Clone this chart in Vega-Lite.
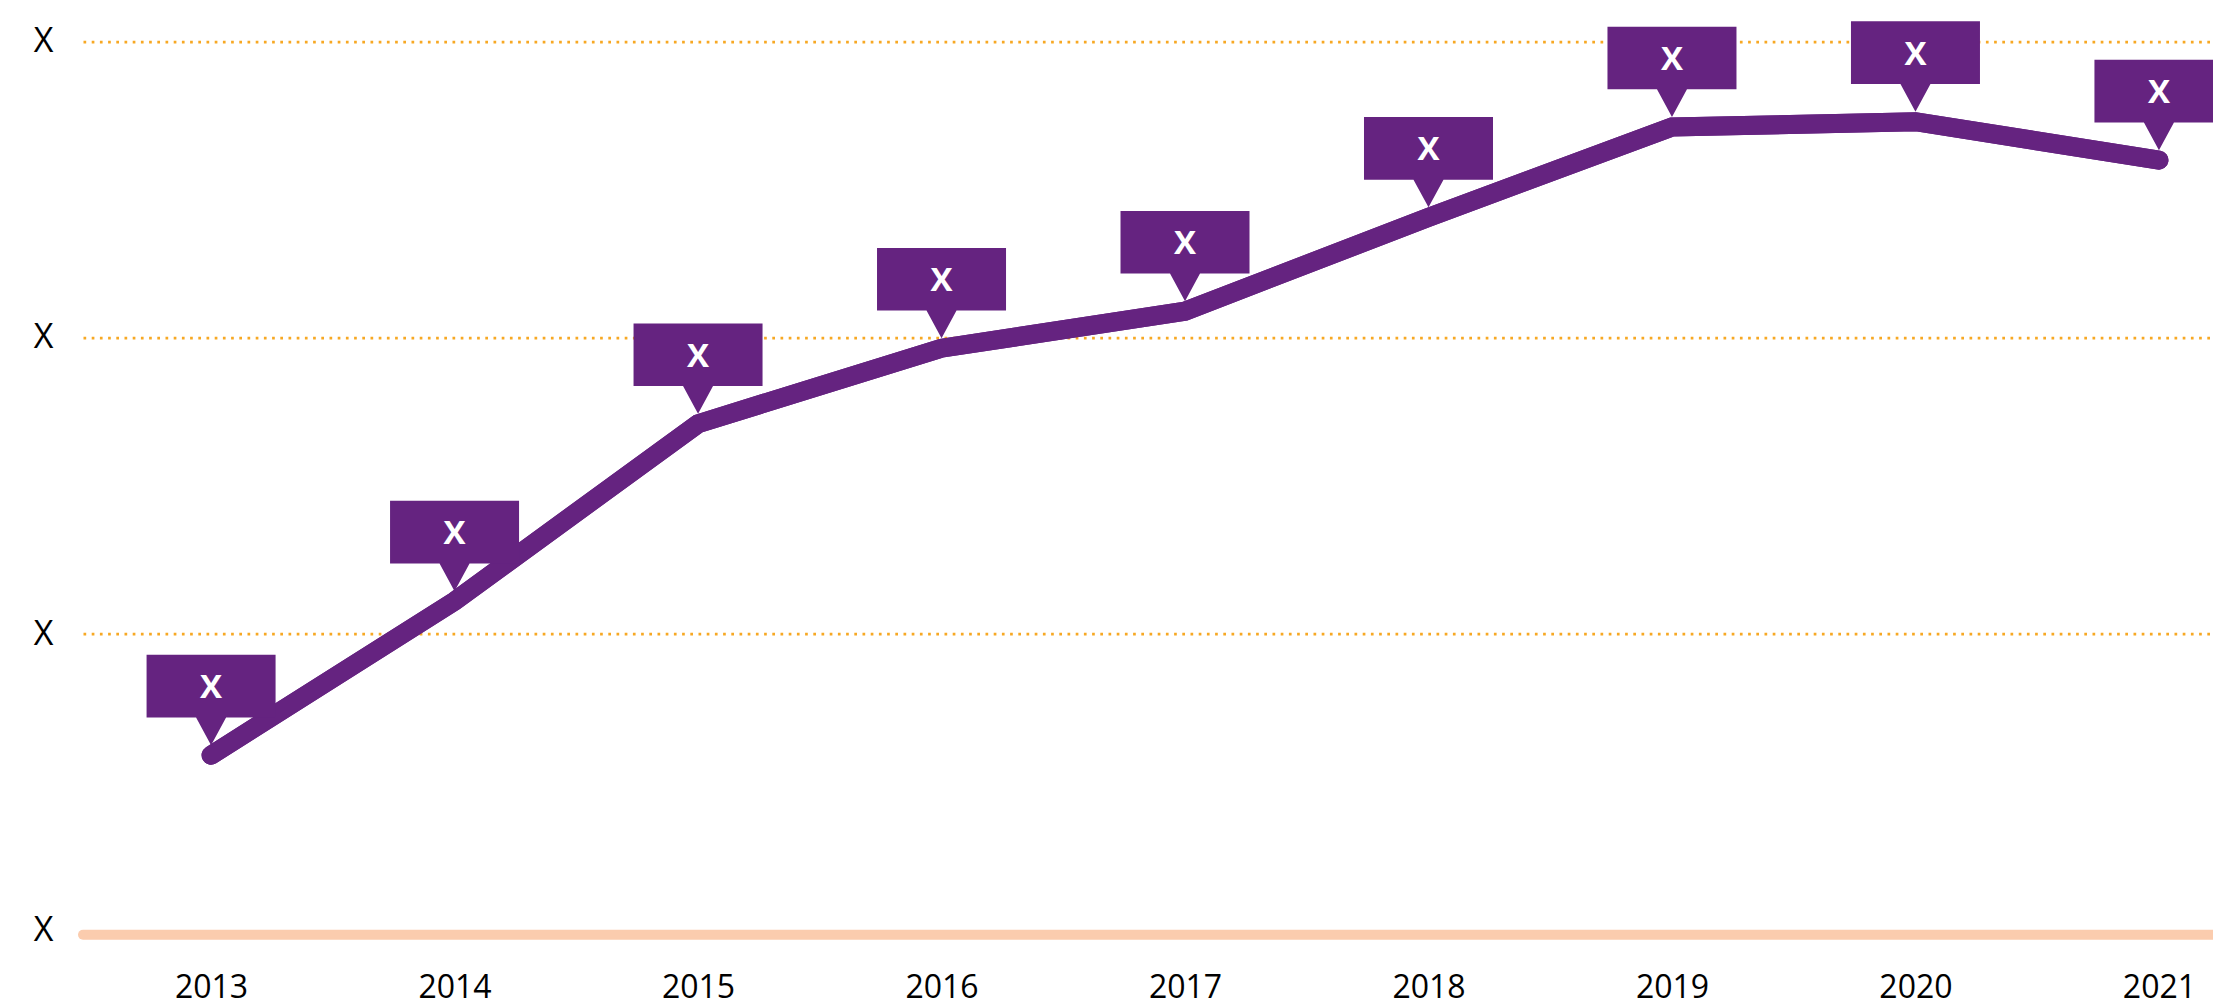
{
  "$schema": "https://vega.github.io/schema/vega-lite/v6.json",
  "autosize": {"type": "none"},
  "width": 2130,
  "height": 888.5,
  "padding": {"left": 83, "top": 41.7, "right": 0, "bottom": 73.8},
  "background": "white",
  "config": {"view": {"stroke": null}, "font": "Open Sans"},
  "data": {
    "values": [
      {"year": 2013, "value": 0.591, "label": "X"},
      {"year": 2014, "value": 1.111, "label": "X"},
      {"year": 2015, "value": 1.710, "label": "X"},
      {"year": 2016, "value": 1.965, "label": "X"},
      {"year": 2017, "value": 2.090, "label": "X"},
      {"year": 2018, "value": 2.407, "label": "X"},
      {"year": 2019, "value": 2.712, "label": "X"},
      {"year": 2020, "value": 2.730, "label": "X"},
      {"year": 2021, "value": 2.600, "label": "X"}
    ]
  },
  "layer": [
    {
      "mark": {"type": "line", "color": "#652380", "strokeWidth": 19, "strokeCap": "round", "strokeJoin": "miter"},
      "encoding": {
        "x": {
          "field": "year", "type": "quantitative",
          "scale": {"domain": [2012.474, 2021.222], "nice": false, "zero": false},
          "axis": {
            "title": null, "values": [2013, 2014, 2015, 2016, 2017, 2018, 2019, 2020, 2021],
            "format": "d", "grid": false, "ticks": false, "tickSize": 0, "domain": false,
            "labelFontSize": 32, "labelColor": "#000000", "labelBaseline": "alphabetic",
            "labelPadding": 67, "labelDx": -7, "labelFlush": false, "labelOverlap": false
          }
        },
        "y": {
          "field": "value", "type": "quantitative",
          "scale": {"domain": [0, 3], "nice": false},
          "axis": {
            "title": null, "values": [0, 1, 2, 3], "labelExpr": "'X'",
            "grid": true, "gridColor": "#F7A823", "gridDash": [2.7, 5.5], "gridWidth": 2.7,
            "gridOpacity": {"condition": {"test": "datum.value === 0", "value": 0}, "value": 1},
            "ticks": false, "tickSize": 0, "domain": false,
            "labelFontSize": 34, "labelPadding": 30, "labelColor": "#000000", "labelFlush": false
          }
        }
      }
    },
    {
      "data": {"values": [{"base": 0}]},
      "mark": {"type": "rule", "color": "#FBCCAE", "strokeWidth": 10, "strokeCap": "round", "yOffset": 4.5},
      "encoding": {"y": {"field": "base", "type": "quantitative"}}
    },
    {
      "mark": {"type": "line", "color": "#652380", "strokeWidth": 19, "strokeCap": "round", "strokeJoin": "miter"},
      "encoding": {
        "x": {"field": "year", "type": "quantitative"},
        "y": {"field": "value", "type": "quantitative"}
      }
    },
    {
      "mark": {
        "type": "point", "filled": true, "fill": "#652380", "opacity": 1, "strokeWidth": 0, "size": 400,
        "shape": "M-6.45,-10.03 L6.45,-10.03 L6.45,-3.77 L1.5,-3.77 L0,-1 L-1.5,-3.77 L-6.45,-3.77 Z"
      },
      "encoding": {
        "x": {"field": "year", "type": "quantitative"},
        "y": {"field": "value", "type": "quantitative"}
      }
    },
    {
      "mark": {"type": "text", "color": "white", "fontSize": 33, "fontWeight": "bold", "baseline": "middle", "align": "center", "dy": -67},
      "encoding": {
        "x": {"field": "year", "type": "quantitative"},
        "y": {"field": "value", "type": "quantitative"},
        "text": {"field": "label"}
      }
    }
  ]
}
